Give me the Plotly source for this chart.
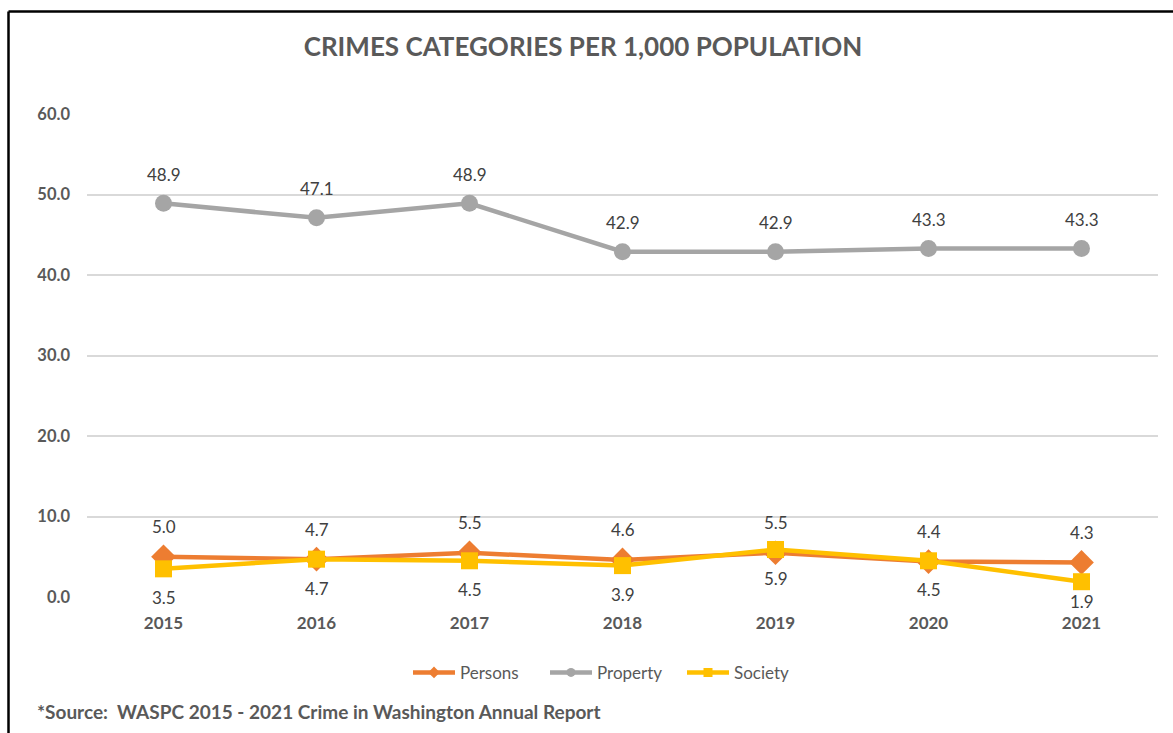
import plotly.graph_objects as go

years = ["2015", "2016", "2017", "2018", "2019", "2020", "2021"]
persons = [5.0, 4.7, 5.5, 4.6, 5.5, 4.4, 4.3]
prop = [48.9, 47.1, 48.9, 42.9, 42.9, 43.3, 43.3]
society = [3.5, 4.7, 4.5, 3.9, 5.9, 4.5, 1.9]

FONT = "Lato, 'Open Sans', sans-serif"
lblfont = dict(family=FONT, size=17, color="#404040")

series = [
    ("Persons", persons, "#ED7D31", "diamond", 19, 30),
    ("Property", prop, "#A5A5A5", "circle", 17, 29),
    ("Society", society, "#FFC000", "square", 17, -29),
]

PLOT_TOP, PLOT_BOTTOM, YMAX = 114, 597, 60

fig = go.Figure()
for name, vals, col, sym, msize, shift in series:
    fig.add_trace(go.Scatter(
        x=years, y=vals, name=name, mode="lines+markers", showlegend=False,
        line=dict(color=col, width=4.5),
        marker=dict(symbol=sym, size=msize, color=col),
    ))
for name, vals, col, sym, msize, shift in series:
    fig.add_trace(go.Scatter(
        x=[None], y=[None], name=name, mode="lines+markers",
        line=dict(color=col, width=4.5),
        marker=dict(symbol=sym, size=9, color=col),
    ))
for name, vals, col, sym, msize, shift in series:
    for i, yv in enumerate(vals):
        s = shift
        if s < 0:
            # keep labels below the line inside the plot area (as the original does)
            py = PLOT_BOTTOM - yv * (PLOT_BOTTOM - PLOT_TOP) / YMAX
            s = -min(-s, (PLOT_BOTTOM + 4) - py)
        fig.add_annotation(x=i, y=yv, xref="x", yref="y", text=f"{yv:.1f}",
                           showarrow=False, yshift=s, font=lblfont)

fig.update_layout(
    width=1173, height=733,
    margin=dict(l=87, r=15, t=PLOT_TOP, b=733 - PLOT_BOTTOM),
    paper_bgcolor="white", plot_bgcolor="white",
    font=dict(family=FONT, color="#595959"),
    title=dict(text="<b>CRIMES CATEGORIES PER 1,000 POPULATION</b>",
               x=0.497, xanchor="center", y=1 - 47 / 733, yanchor="middle",
               font=dict(family=FONT, size=26, color="#595959")),
    showlegend=True,
    legend=dict(orientation="h", x=(408 - 87) / 1071, xanchor="left", y=-0.157, yanchor="middle",
                font=dict(family=FONT, size=17, color="#595959"),
                itemwidth=42, entrywidth=80, traceorder="normal"),
    xaxis=dict(type="category", range=[-0.5, 6.5], showgrid=False, zeroline=False,
               showline=False, ticks="", tickfont=dict(family=FONT, size=17, color="#595959"),
               tickprefix="<b>", ticksuffix="</b>", ticklabelstandoff=14),
    yaxis=dict(range=[0, YMAX], dtick=10, tickformat=".1f", showgrid=True,
               gridcolor="#D9D9D9", gridwidth=2, zeroline=False, showline=False,
               tickfont=dict(family=FONT, size=16.5, color="#595959"),
               tickprefix="<b>", ticksuffix="</b>", ticklabelstandoff=16),
)

fig.add_annotation(
    text="<b>*Source:  WASPC 2015 - 2021 Crime in Washington Annual Report</b>",
    xref="paper", yref="paper", x=(35 - 87) / 1071, y=(597 - 711) / 483,
    xanchor="left", yanchor="middle", showarrow=False,
    font=dict(family=FONT, size=19, color="#595959"),
)

# chart border (top and left visible)
bx = (8.5 - 87) / 1071
by = (597 - 11.5) / 483
fig.add_shape(type="line", xref="paper", yref="paper", x0=bx, x1=1.2, y0=by, y1=by,
              line=dict(color="black", width=2.5))
fig.add_shape(type="line", xref="paper", yref="paper", x0=bx, x1=bx, y0=by, y1=-0.5,
              line=dict(color="black", width=2.5))

fig.write_html("out.html")
